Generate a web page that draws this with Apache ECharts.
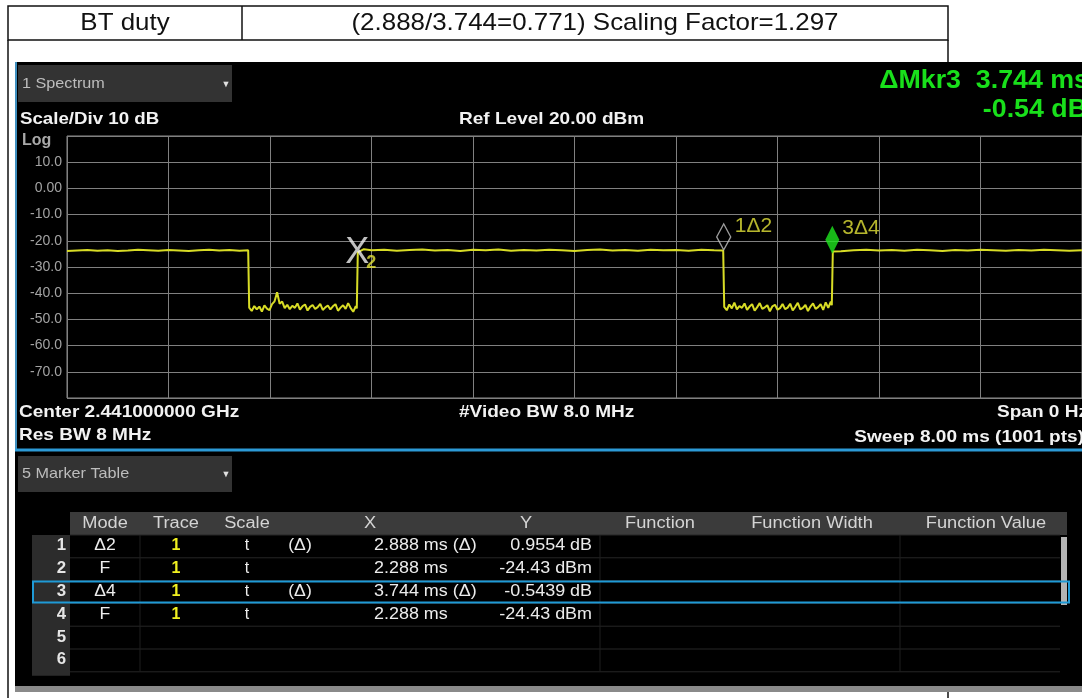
<!DOCTYPE html>
<html><head><meta charset="utf-8">
<script src="https://cdn.jsdelivr.net/npm/echarts@6/dist/echarts.min.js"></script>
<style>html,body{margin:0;padding:0;background:#fff}#c{width:1082px;height:698px}</style>
</head><body><div id="c"></div>
<script>
// ---------- data ----------
const headerCells = ['BT duty', '(2.888/3.744=0.771) Scaling Factor=1.297'];
const sweepMs = [0, 8];            // span 0 Hz, sweep 8.00 ms
const levelRange = [-80, 20];      // ref level 20 dBm, 10 dB/div
// trace samples [time ms, level dBm]
const traceSamples = [
 [0,-23.9],[0.08,-23.7],[0.16,-23.5],[0.24,-23.8],[0.32,-23.6],[0.40,-23.9],[0.48,-23.7],[0.56,-23.4],[0.64,-23.6],[0.72,-23.8],
 [0.80,-23.5],[0.88,-23.7],[0.96,-23.9],[1.04,-23.6],[1.12,-23.4],[1.20,-23.7],[1.28,-23.5],[1.36,-23.8],[1.428,-23.6],
 [1.436,-45.5],[1.456,-46.8],[1.476,-44.9],[1.496,-46.2],[1.516,-45.1],[1.536,-47.0],[1.556,-44.6],[1.576,-45.9],[1.596,-46.5],[1.616,-44.2],
 [1.636,-43.1],[1.656,-39.6],[1.666,-41.8],[1.676,-44.0],[1.696,-43.2],[1.716,-45.7],[1.736,-44.4],[1.756,-46.1],[1.776,-44.8],[1.796,-45.6],
 [1.816,-43.9],[1.836,-46.3],[1.856,-45.0],[1.876,-44.3],[1.896,-46.6],[1.916,-45.2],[1.936,-44.5],[1.956,-46.0],[1.976,-45.3],[1.996,-44.1],
 [2.016,-46.4],[2.036,-45.4],[2.056,-44.7],[2.076,-46.2],[2.096,-45.0],[2.116,-44.2],[2.136,-46.7],[2.156,-45.5],[2.176,-44.6],[2.196,-46.0],
 [2.216,-43.8],[2.236,-45.7],[2.256,-47.1],[2.276,-44.9],[2.284,-45.8],
 [2.292,-24.4],[2.34,-23.2],[2.40,-23.6],[2.50,-23.4],[2.60,-23.8],[2.70,-23.5],[2.80,-23.3],[2.90,-23.7],[3.00,-23.5],[3.10,-23.9],
 [3.20,-23.4],[3.30,-23.6],[3.40,-23.3],[3.50,-23.8],[3.60,-23.5],[3.70,-23.7],[3.80,-23.4],[3.90,-23.6],[4.00,-23.9],[4.10,-23.5],
 [4.20,-23.3],[4.30,-23.7],[4.40,-23.5],[4.50,-23.8],[4.60,-23.4],[4.70,-23.6],[4.80,-23.5],[4.90,-23.8],[5.00,-23.4],[5.10,-23.6],[5.172,-23.7],
 [5.180,-45.2],[5.20,-46.5],[5.22,-44.3],[5.24,-45.8],[5.26,-43.6],[5.28,-46.2],[5.30,-44.9],[5.32,-45.6],[5.34,-43.9],[5.36,-46.4],
 [5.38,-45.1],[5.40,-44.2],[5.42,-46.7],[5.44,-45.3],[5.46,-43.8],[5.48,-46.0],[5.50,-45.4],[5.52,-44.6],[5.54,-46.9],[5.56,-45.0],
 [5.58,-44.4],[5.60,-46.3],[5.62,-45.7],[5.64,-44.1],[5.66,-46.1],[5.68,-45.5],[5.70,-44.0],[5.72,-46.6],[5.74,-45.2],[5.76,-43.7],
 [5.78,-46.2],[5.80,-45.6],[5.82,-44.5],[5.84,-46.8],[5.86,-45.1],[5.88,-43.9],[5.90,-46.0],[5.92,-45.3],[5.94,-44.2],[5.96,-46.4],
 [5.98,-43.5],[6.00,-45.6],[6.02,-43.2],[6.028,-44.6],
 [6.036,-24.1],[6.10,-24.0],[6.20,-23.6],[6.30,-23.4],[6.40,-23.7],[6.50,-23.5],[6.60,-23.8],[6.70,-23.4],[6.80,-23.6],[6.90,-23.9],
 [7.00,-23.5],[7.10,-23.7],[7.20,-23.4],[7.30,-23.6],[7.40,-23.8],[7.50,-23.5],[7.60,-23.7],[7.70,-23.4],[7.80,-23.6],[7.90,-23.8],[8.00,-23.6]
];
// markers 1..4
const markerTimeMs = [5.176, 2.288, 6.032, 2.288];
const markerLevel  = [-23.47, -24.43, -24.97, -24.43];
const markerTags   = ['1\u03942', '2', '3\u03944', '4'];
// marker table
const tableHeaders = ['Mode','Trace','Scale','X','Y','Function','Function Width','Function Value'];
const tableRowNo   = ['1','2','3','4','5','6'];
const tableMode    = ['\u03942','F','\u03944','F','',''];
const tableTrace   = ['1','1','1','1','',''];
const tableScale   = ['t','t','t','t','',''];
const tableRef     = ['(\u0394)','','(\u0394)','','',''];
const tableX       = ['2.888 ms (\u0394)','2.288 ms','3.744 ms (\u0394)','2.288 ms','',''];
const tableY       = ['0.9554 dB','-24.43 dBm','-0.5439 dB','-24.43 dBm','',''];
const statusTop    = ['1 Spectrum','Scale/Div 10 dB','Ref Level 20.00 dBm','\u0394Mkr3  3.744 ms','-0.54 dB','Log'];
const statusBottom = ['Center 2.441000000 GHz','Res BW 8 MHz','#Video BW 8.0 MHz','Span 0 Hz','Sweep 8.00 ms (1001 pts)','5 Marker Table'];

// ---------- drawing helpers ----------
const FONT = 'Liberation Sans';
const G = [];
function zz(z,d){ return (z === undefined || z === null) ? d : z; }
function rect(x,y,w,h,fill,stroke,lw,z){G.push({type:'rect',silent:true,z:zz(z,0),shape:{x:x,y:y,width:w,height:h},style:{fill:fill||'none',stroke:stroke||null,lineWidth:lw||0}});}
function line(x1,y1,x2,y2,stroke,lw,z){G.push({type:'line',silent:true,z:zz(z,1),shape:{x1:x1,y1:y1,x2:x2,y2:y2},style:{stroke:stroke,lineWidth:lw||1}});}
function txt(x,y,s,font,fill,align,sx,z){G.push({type:'text',silent:true,z:zz(z,5),x:x,y:y,scaleX:sx||1,style:{text:s,font:font,fill:fill,textAlign:align||'left',textVerticalAlign:'middle',align:align||'left',verticalAlign:'middle'}});}

// page table (visible around the instrument screenshot)
rect(8,6,940,34,'#fff','#111',1.5,0);
line(242,6,242,40,'#111',1.5,0);
line(8,40,8,698,'#111',1.5,0);
line(948,40,948,62,'#111',1.5,0);
line(948,692,948,698,'#111',1.5,0);
txt(125,23,headerCells[0],'24px '+FONT,'#111','center',1.08);
txt(595,23,headerCells[1],'24px '+FONT,'#111','center',1.08);

// instrument screen
rect(15,62,1067,626,'#000',null,0,0);
rect(15,686,1067,6,'#8a8a8a',null,0,1);
line(16,62,16,450,'#3f8fbf',2,3);
line(15,450,1082,450,'#2c9ad6',3,3);

// spectrum window header
rect(18,65,214,37,'#333',null,0,1);
txt(22,84,statusTop[0],'15px '+FONT,'#bdbdbd','left',1.08);
txt(226,85,'\u25BC','9px '+FONT,'#e0e0e0','center');
txt(20,119,statusTop[1],'bold 17px '+FONT,'#f2f2f2','left',1.1);
txt(459,119,statusTop[2],'bold 17px '+FONT,'#f2f2f2','left',1.12);
txt(1089,81,statusTop[3],'bold 26px '+FONT,'#19e01b','right',1.03);
txt(1087,110,statusTop[4],'bold 26px '+FONT,'#19e01b','right',1.03);
txt(22,141,statusTop[5],'bold 16px '+FONT,'#a9a9a9','left',1.0);

// bottom annotations
txt(19,412,statusBottom[0],'bold 17px '+FONT,'#f2f2f2','left',1.12);
txt(19,435,statusBottom[1],'bold 17px '+FONT,'#f2f2f2','left',1.12);
txt(459,412,statusBottom[2],'bold 17px '+FONT,'#f2f2f2','left',1.12);
txt(1088,412,statusBottom[3],'bold 17px '+FONT,'#f2f2f2','right',1.12);
txt(1084,437,statusBottom[4],'bold 17px '+FONT,'#f2f2f2','right',1.12);

// marker table window
rect(18,456,214,36,'#333',null,0,1);
txt(22,474,statusBottom[5],'15px '+FONT,'#bdbdbd','left',1.08);
txt(226,475,'\u25BC','9px '+FONT,'#e0e0e0','center');

const tTop = 512, hdrH = 23, rowH = 22.8, nRows = tableRowNo.length;
const bodyTop = tTop + hdrH, bodyBot = bodyTop + nRows*rowH;
rect(70,tTop,997,hdrH,'#3b3b3b',null,0,1);
rect(32,bodyTop,38,nRows*rowH+4,'#2c2c2c',null,0,1);
for(let i=0;i<=nRows;i++){ line(70,bodyTop+i*rowH,1060,bodyTop+i*rowH,'#262626',1,2); }
[140,600,900].forEach(function(cx){ line(cx,bodyTop,cx,bodyBot,'#1e1e1e',1,2); });
rect(1061,537,6,68,'#b4b4b4',null,0,3);
const hdrX = [105,176,247,370,526,660,812,986];
tableHeaders.forEach(function(h,i){ txt(hdrX[i],tTop+11.5,h,'16px '+FONT,'#d4d4d4','center',1.14); });
for(let i=0;i<nRows;i++){
  const y = bodyTop + 11 + i*rowH;
  txt(66,y,tableRowNo[i],'bold 16px '+FONT,'#e6e6e6','right',1.05);
  txt(105,y,tableMode[i],'16px '+FONT,'#ececec','center',1.1);
  txt(176,y,tableTrace[i],'bold 16px '+FONT,'#f0f020','center',1.0);
  txt(247,y,tableScale[i],'16px '+FONT,'#ececec','center',1.0);
  txt(300,y,tableRef[i],'16px '+FONT,'#ececec','center',1.1);
  txt(374,y,tableX[i],'16px '+FONT,'#ececec','left',1.12);
  txt(592,y,tableY[i],'16px '+FONT,'#ececec','right',1.12);
}
rect(33,bodyTop+2*rowH+1,1036,rowH-2,'none','#1f9ad6',2,6);

// ---------- chart ----------
const chart = echarts.init(document.getElementById('c'), null, {renderer:'canvas'});
const lblItem = function(i, text, dx, dy, size, weight, color){
  return {value:[markerTimeMs[i], markerLevel[i]], label:{show:true, formatter:text, position:'inside', align:'left', verticalAlign:'middle',
          offset:[dx,dy], fontSize:size, fontWeight:weight, fontFamily:FONT, color:color}};
};
chart.setOption({
  animation:false,
  backgroundColor:'#fff',
  graphic:{elements:G},
  grid:{left:67, top:136, width:1019, height:262, show:true, borderColor:'#8c8c8c', borderWidth:1, z:4},
  xAxis:{type:'value', min:sweepMs[0], max:sweepMs[1], interval:0.8, axisLabel:{show:false}, axisTick:{show:false}, axisLine:{show:false},
         splitLine:{show:true, lineStyle:{color:'#808080', width:1}}, z:4},
  yAxis:{type:'value', min:levelRange[0], max:levelRange[1], interval:10, axisTick:{show:false}, axisLine:{show:false},
         splitLine:{show:true, lineStyle:{color:'#808080', width:1}},
         axisLabel:{margin:5, color:'#a3a3a3', fontFamily:FONT, fontSize:14,
           formatter:function(v){ if(v===20||v===-80) return ''; return v===0 ? '0.00' : v.toFixed(1); }}, z:4},
  series:[
    {type:'line', name:'Trace 1', data:traceSamples, showSymbol:false, symbol:'none', z:5,
     lineStyle:{color:'#d8dc26', width:2}, clip:true},
    {type:'scatter', name:'Mkr1', z:7, symbol:'diamond', symbolSize:[14,26], symbolOffset:[0,-13],
     itemStyle:{color:'rgba(0,0,0,0)', borderColor:'#c4c4c4', borderWidth:1.5},
     data:[[markerTimeMs[0], markerLevel[0]]]},
    {type:'scatter', name:'Mkr3', z:7, symbol:'diamond', symbolSize:[14,28], symbolOffset:[0,-14],
     itemStyle:{color:'#1ee61e'},
     data:[[markerTimeMs[2], markerLevel[2]]]},
    {type:'scatter', name:'labels', z:8, symbolSize:1, itemStyle:{color:'rgba(0,0,0,0)'},
     data:[
       lblItem(0, markerTags[0], 11, -24, 21, 'normal', '#e4e438'),
       lblItem(2, markerTags[2], 10, -26, 21, 'normal', '#e4e438'),
       {value:[markerTimeMs[3], markerLevel[3]], label:{show:true, formatter:'X', position:'inside', align:'center', verticalAlign:'middle',
         offset:[0,1], fontSize:36, fontFamily:FONT, color:'#f0f0f0'}},
       lblItem(1, markerTags[1], 9, 11, 18, 'bold', '#e4e438')
     ]}
  ]
});
</script></body></html>
